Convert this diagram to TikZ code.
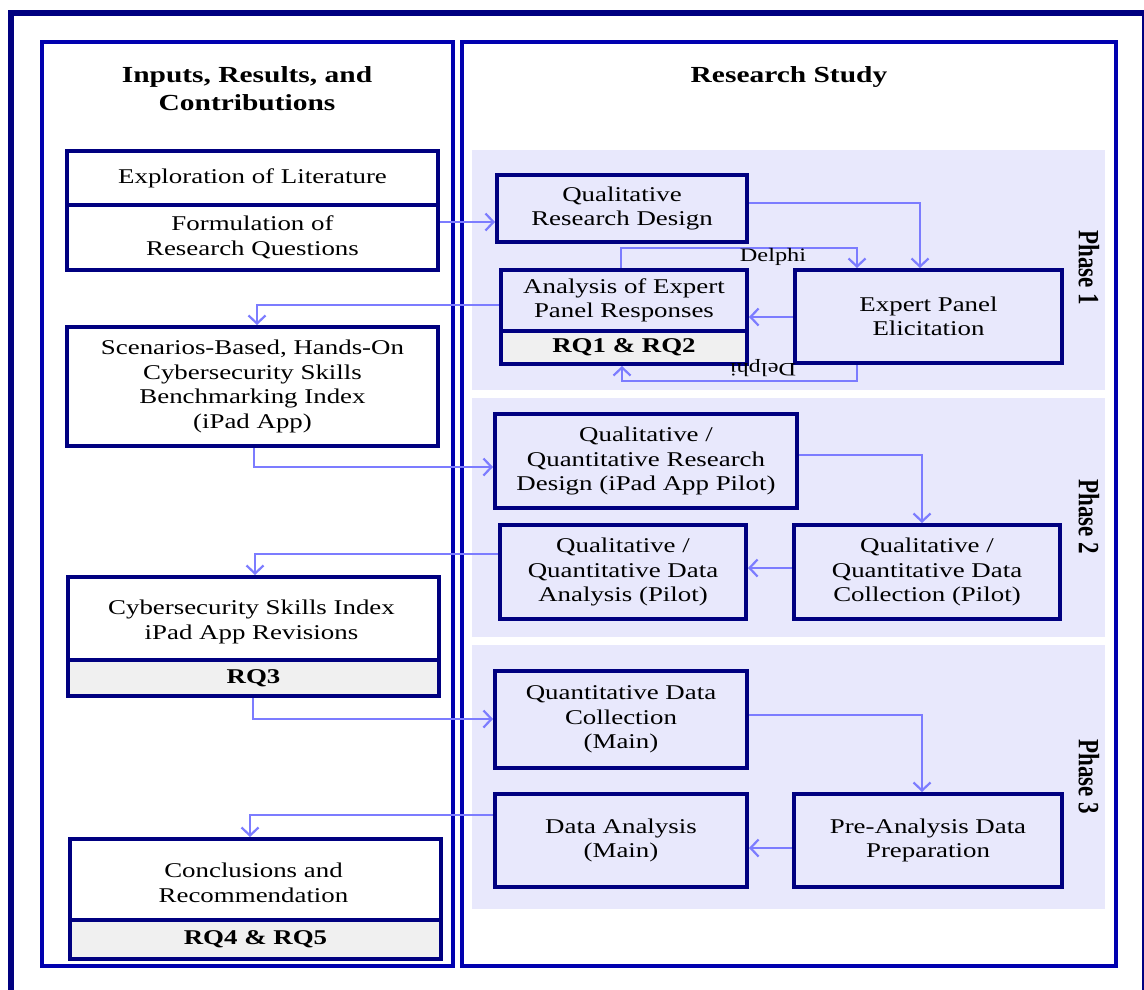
\documentclass[tikz,border=0pt]{standalone}
\usepackage{fontspec}
\usepackage{graphicx}
\setmainfont{Liberation Serif}[FakeStretch=1.28]
\newfontfamily\plainserif{Liberation Serif}
\usetikzlibrary{arrows.meta}
\definecolor{boxnavy}{RGB}{0,0,128}
\definecolor{panelblue}{RGB}{0,0,175}
\definecolor{conncol}{RGB}{124,124,255}
\definecolor{bandcol}{RGB}{232,232,252}
\definecolor{rqgray}{RGB}{240,240,240}
\newcommand\txtfont{\fontsize{21}{24.5}\selectfont}
\newcommand\rqfont{\fontsize{21}{24.5}\selectfont\bfseries}
\newcommand\hdrfont{\fontsize{23}{28}\selectfont\bfseries}
\newcommand\delphifont{\fontsize{19}{22}\selectfont}
\newcommand\phasefont{\plainserif\fontsize{23}{28}\selectfont\bfseries}
\newcommand\mybox[6]{\node[#1, minimum width={(#4-#2)*1pt}, minimum height={(#5-#3)*1pt}] (#6) at (#2,#3)}
\begin{document}
\begin{tikzpicture}[x=1pt,y=-1pt,
  bx/.style={draw=boxnavy, line width=4pt, inner sep=0pt, anchor=north west, align=center, font=\txtfont, fill=white},
  pbx/.style={bx, fill=bandcol},
  rq/.style={bx, fill=rqgray, font=\rqfont},
  txt/.style={align=center, font=\txtfont, inner sep=0pt},
  conn/.style={draw=conncol, line width=2.2pt, -{Straight Barb[length=8pt,width=17pt,line width=2.2pt]}},
  hdr/.style={align=center, font=\hdrfont, inner sep=0pt},
  delph/.style={font=\delphifont, inner sep=0pt},
  phaselbl/.style={font=\phasefont, inner sep=0pt, rotate=-90},
  band/.style={fill=bandcol, draw=none},
  panel/.style={draw=panelblue, line width=4pt},
  frame/.style={draw=boxnavy, line width=6pt}]
\useasboundingbox (0,0) rectangle (1144,989);
\fill[white] (0,0) rectangle (1144,989);
% outer frame and panels
\draw[frame] (10.5,13) rectangle (1145,1010);
\draw[panel] (42,42) rectangle (453,966);
\draw[panel] (462,42) rectangle (1115.5,965.5);
% phase bands
\path[band] (472,150) rectangle (1105,390);
\path[band] (472,398) rectangle (1105,637);
\path[band] (472,645) rectangle (1105,909);
% headers
\node[hdr] (h1) at (247,89) {Inputs, Results, and\\Contributions};
\node[hdr] (h2) at (789,77) {Research Study};
% phase labels
\node[phaselbl] (p1) at (1089,268) {\scalebox{1}[1.28]{Phase 1}};
\node[phaselbl] (p2) at (1089,517) {\scalebox{1}[1.28]{Phase 2}};
\node[phaselbl] (p3) at (1089,777) {\scalebox{1}[1.28]{Phase 3}};
% left boxes
\mybox{bx}{65}{149}{436}{203}{A1} {Exploration of Literature};
\mybox{bx}{65}{203}{436}{268}{A2} {Formulation of\\Research Questions};
\mybox{bx}{65}{325}{436}{444}{B} {Scenarios-Based, Hands-On\\Cybersecurity Skills\\Benchmarking Index\\(iPad App)};
\mybox{bx}{66}{575}{437}{658}{C1} {};
\node[txt] (C1t) at (251.5,622) {Cybersecurity Skills Index\\iPad App Revisions};
\mybox{rq}{66}{658}{437}{694}{C2} {RQ3};
\mybox{bx}{68}{837}{439}{918}{D1} {};
\node[txt] (D1t) at (253.5,883) {Conclusions and\\Recommendation};
\mybox{rq}{68}{918}{439}{957}{D2} {RQ4 \& RQ5};
% right boxes
\mybox{pbx}{495}{173}{745}{240}{QRD} {Qualitative\\Research Design};
\mybox{pbx}{499}{268}{745}{329}{AN1} {Analysis of Expert\\Panel Responses};
\mybox{rq}{499}{329}{745}{362}{AN2} {RQ1 \& RQ2};
\mybox{pbx}{793}{268}{1060}{361}{EP} {Expert Panel\\Elicitation};
\mybox{pbx}{493}{412}{795}{506}{RDP} {Qualitative /\\Quantitative Research\\Design (iPad App Pilot)};
\mybox{pbx}{498}{523}{744}{617}{DAP} {Qualitative /\\Quantitative Data\\Analysis (Pilot)};
\mybox{pbx}{792}{523}{1058}{617}{DCP} {Qualitative /\\Quantitative Data\\Collection (Pilot)};
\mybox{pbx}{493}{669}{745}{766}{QDC} {Quantitative Data\\Collection\\(Main)};
\mybox{pbx}{493}{792}{745}{885}{DAM} {Data Analysis\\(Main)};
\mybox{pbx}{792}{792}{1060}{885}{PAD} {Pre-Analysis Data\\Preparation};
% connectors
\draw[conn] (A2.east |- 0,222) -- (QRD.west |- 0,222);
\draw[conn] (QRD.east |- 0,203) -| (EP.north -| 920,0);
\draw[conn] (AN1.north -| 621,0) -- (621,248) -| (EP.north -| 857,0);
\node[delph] (d1) at (773,257) {Delphi};
\draw[conn] (EP.west |- 0,317) -- (AN1.east |- 0,317);
\draw[conn] (EP.south -| 857,0) -- (857,381) -| (AN2.south -| 622,0);
\node[delph, rotate=180] (d2) at (763,368) {Delphi};
\draw[conn] (AN1.west |- 0,305) -| (B.north -| 257,0);
\draw[conn] (B.south -| 254,0) |- (RDP.west |- 0,467);
\draw[conn] (RDP.east |- 0,455) -| (DCP.north -| 922,0);
\draw[conn] (DCP.west |- 0,568) -- (DAP.east |- 0,568);
\draw[conn] (DAP.west |- 0,554) -| (C1.north -| 255,0);
\draw[conn] (C2.south -| 253,0) |- (QDC.west |- 0,719);
\draw[conn] (QDC.east |- 0,715) -| (PAD.north -| 922,0);
\draw[conn] (PAD.west |- 0,848) -- (DAM.east |- 0,848);
\draw[conn] (DAM.west |- 0,815) -| (D1.north -| 250,0);
\end{tikzpicture}
\end{document}
